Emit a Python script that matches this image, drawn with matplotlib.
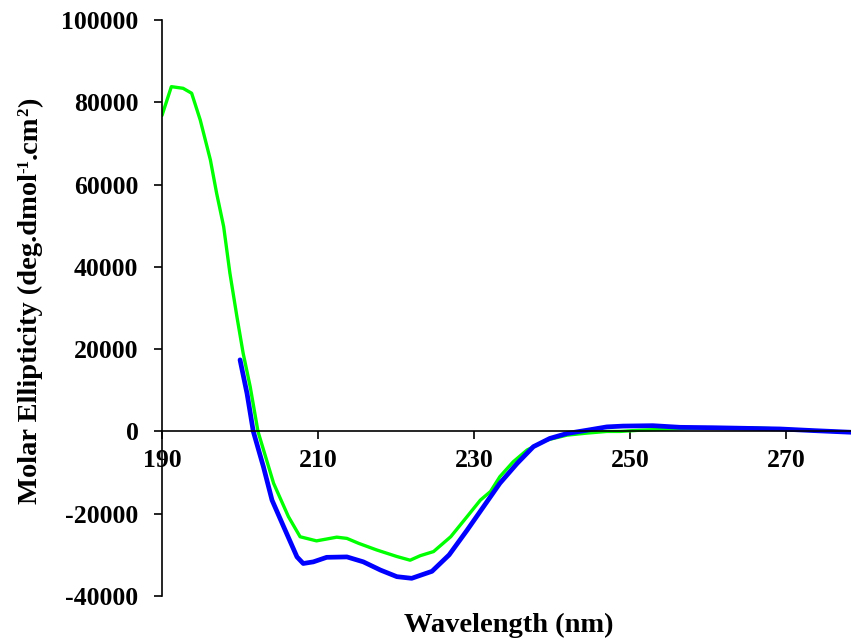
import matplotlib
matplotlib.use("Agg")
import matplotlib.pyplot as plt
from matplotlib.transforms import IdentityTransform

# Green spectrum
green_wl = [190, 191.2, 192.7, 193.8, 194.9, 196.2, 197.0, 197.9, 198.7, 199.6, 200.4, 201.3,
            202.3, 204.3, 206.2, 207.7, 209.8, 212.4, 213.7, 215.2, 217.5, 220.1, 221.8,
            223.1, 224.8, 227.0, 229.1, 230.8, 232.1, 233.3, 235.0, 236.8, 239.3, 241.9,
            244.5, 247.0, 248.7, 251.3, 256.4, 260.7, 265.0, 269.2, 273.5, 278.3]
green_val = [76800, 83800, 83400, 82200, 75700, 66000, 57900, 49800, 38500, 27900, 19000, 10900,
             0, -12600, -20700, -25600, -26600, -25700, -26000, -27200, -28800, -30400, -31300,
             -30200, -29200, -25600, -20700, -16700, -14600, -11000, -7400, -4500, -2100, -900,
             -400, 0, 0, 300, 700, 900, 900, 600, 200, -200]

# Blue spectrum
blue_wl = [200, 200.9, 201.7, 203.0, 204.1, 205.6, 207.3, 208.1, 209.4, 211.1, 213.7, 215.8,
           218.0, 220.1, 222.0, 224.6, 226.8, 229.1, 231.2, 233.3, 235.5, 237.6, 239.7, 241.9,
           244.5, 247.0, 249.1, 252.9, 256.4, 260.7, 265.0, 269.2, 273.5, 278.3]
blue_val = [17400, 9200, 0, -8600, -16700, -23200, -30500, -32100, -31700, -30600, -30500, -31700,
            -33700, -35300, -35700, -34000, -30000, -24000, -18300, -12600, -7800, -3700, -1700, -500,
            300, 1100, 1300, 1400, 1000, 900, 750, 600, 200, -200]

x_ticks = [190, 210, 230, 250, 270]
y_ticks = [-40000, -20000, 0, 20000, 40000, 60000, 80000, 100000]

plt.rcParams['font.family'] = ['Liberation Serif', 'DejaVu Serif']
plt.rcParams['font.weight'] = 'bold'
plt.rcParams['axes.unicode_minus'] = False

fig = plt.figure(figsize=(8.51, 6.41), dpi=100)
ax = fig.add_axes([162/851, 1-596/641, 1-162/851, (596-20)/641])

ax.plot(green_wl, green_val, color='#00ff00', lw=2.4, solid_capstyle='round', solid_joinstyle='round')
ax.plot(blue_wl, blue_val, color='#0000ff', lw=3.4, solid_capstyle='round', solid_joinstyle='round')

ax.set_xlim(190, 278.3)
ax.set_ylim(-40000, 100000)
ax.set_xticks(x_ticks)
ax.set_yticks(y_ticks)
ax.spines['top'].set_visible(False)
ax.spines['right'].set_visible(False)
ax.spines['bottom'].set_position(('data', 0))
ax.spines['left'].set_linewidth(1.2)
ax.spines['bottom'].set_linewidth(1.2)
ax.tick_params(axis='both', direction='out', length=6, width=1.2, labelsize=18.5)
ax.tick_params(axis='y', pad=11)
ax.tick_params(axis='x', pad=7)
for lab in ax.get_xticklabels() + ax.get_yticklabels():
    lab.set_fontweight('bold')

fig.text(509/851, 1-625/641, 'Wavelength (nm)', ha='center', va='center',
         fontsize=20.5, fontweight='bold')

# y label built from pieces so the superscripts use a small hyphen
ylab_parts = [('Molar Ellipticity (deg.dmol', 20.5, 0), ('-1', 12, 9), ('.cm', 20.5, 0),
              ('2', 12, 9), (')', 20.5, 0)]
fig.canvas.draw()
renderer = fig.canvas.get_renderer()
texts = []
lengths = []
for s, fs, off in ylab_parts:
    t = fig.text(0, 0, s, fontsize=fs, fontweight='bold', rotation=90,
                 rotation_mode='anchor', ha='left', va='baseline',
                 transform=IdentityTransform())
    bb = t.get_window_extent(renderer)
    lengths.append(bb.height)
    texts.append(t)
total = sum(lengths)
baseline_x = 37
y_pos = (641 - 301) - total / 2
for t, (s, fs, off), L in zip(texts, ylab_parts, lengths):
    t.set_position((baseline_x - off, y_pos))
    y_pos += L

fig.savefig('out.png', dpi=100)
